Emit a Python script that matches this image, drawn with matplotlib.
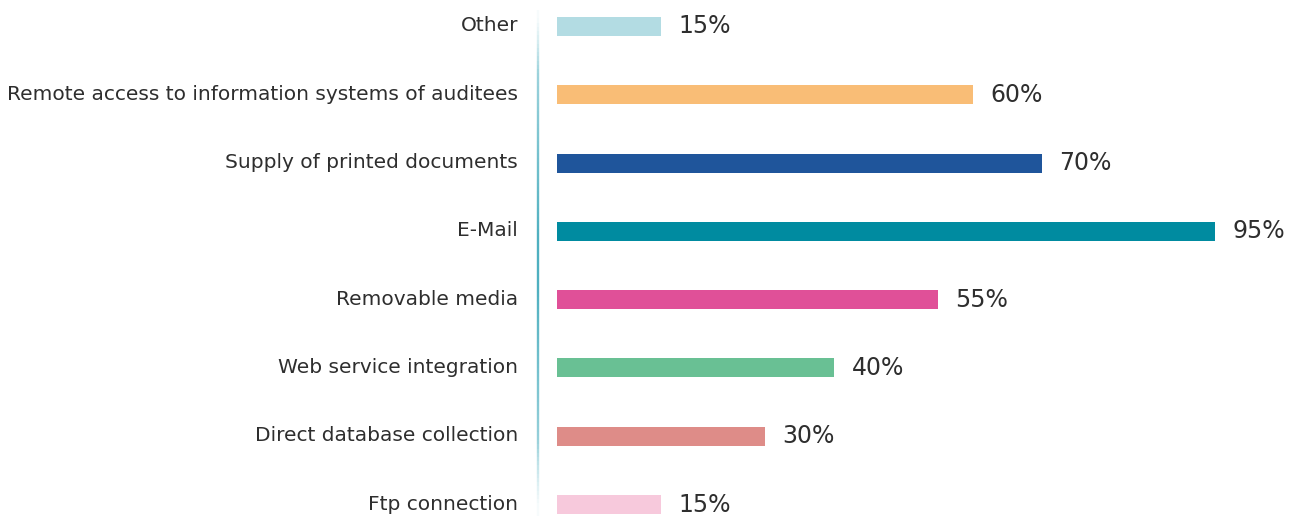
import matplotlib
matplotlib.use("Agg")
import matplotlib.pyplot as plt
import numpy as np
from matplotlib.collections import LineCollection
from matplotlib.colors import to_rgb
import matplotlib.transforms as mtransforms

categories = ["Other", "Remote access to information systems of auditees",
              "Supply of printed documents", "E-Mail", "Removable media",
              "Web service integration", "Direct database collection", "Ftp connection"]
values = [15, 60, 70, 95, 55, 40, 30, 15]
colors = ["#b3dce3", "#f9bd76", "#1f559b", "#008ba0", "#e05098",
          "#69c094", "#de8c88", "#f7c9dc"]

W, H = 1301, 516
fig = plt.figure(figsize=(W/100, H/100), dpi=100)
x0 = 557
px_per_unit = (1215 - 557) / 95.0
ax = fig.add_axes([x0/W, 0, (W - x0)/W, 1])
row = 68.29
top = -26.5/row
bot = 7 + (H - 504.5)/row
ys = np.arange(len(categories))
ax.barh(ys, values, height=19/row, color=colors)
ax.set_ylim(bot, top)
ax.set_xlim(0, (W - x0)/px_per_unit)
for y, v in zip(ys, values):
    ax.annotate(f"{v}%", (v, y), xytext=(12.5, 0), textcoords="offset points",
                va="center", ha="left", fontsize=17, color="#2e2e2e")

lab_tr = mtransforms.blended_transform_factory(ax.transAxes, ax.transData) + \
    mtransforms.ScaledTranslation(-39/100, 2.5/100, fig.dpi_scale_trans)
for y, c in zip(ys, categories):
    ax.text(0, y, c, transform=lab_tr, ha="right", va="center_baseline",
            fontsize=14.5, color="#2e2e2e")
ax.set_yticks([])
ax.set_xticks([])
for s in ax.spines.values():
    s.set_visible(False)

# vertical gradient separator line
lx = 538 / W
n = 120
yy = np.linspace(10/H, 1, n+1)
segs = [[(lx, 1 - yy[i]), (lx, 1 - yy[i+1])] for i in range(n)]
t = np.linspace(0, 1, n)
prof = np.clip(np.minimum(t/0.45, (1 - t)/0.45), 0, 1)
c_edge = np.array(to_rgb("#b8dfe6"))
c_mid = np.array(to_rgb("#4fb0c0"))
alpha = np.clip(np.minimum(t/0.12, (1 - t)/0.15), 0.1, 1)
cols = [tuple(c_edge + (c_mid - c_edge)*p) + (a,) for p, a in zip(prof, alpha)]
lc = LineCollection(segs, colors=cols, linewidths=1.7, transform=fig.transFigure)
fig.add_artist(lc)

fig.savefig("out.png", dpi=100)
